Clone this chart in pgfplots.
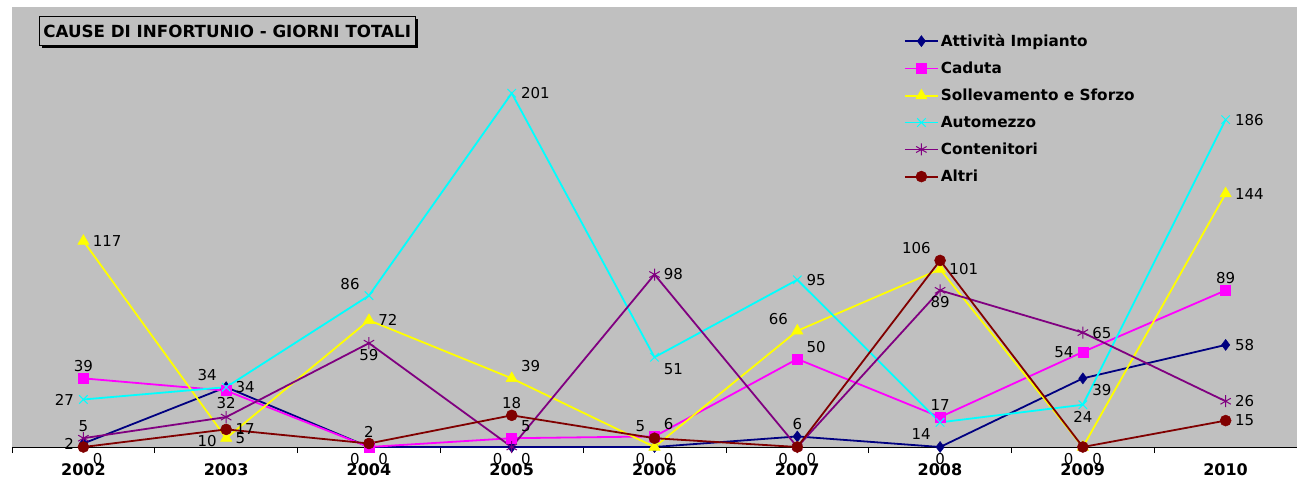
\documentclass[border=0pt]{standalone}
\usepackage{pgfplots}
\pgfplotsset{compat=1.18}
\usepackage{pgfplotstable}
\usepackage{fontspec}
\setmainfont{DejaVu Sans}
\usetikzlibrary{shadows}
\definecolor{bggray}{RGB}{192,192,192}
\definecolor{cnavy}{RGB}{0,0,128}
\definecolor{cmag}{RGB}{255,0,255}
\definecolor{cyel}{RGB}{255,255,0}
\definecolor{ccyan}{RGB}{0,255,255}
\definecolor{cpurp}{RGB}{128,0,128}
\definecolor{cdred}{RGB}{128,0,0}

\pgfplotstableread{
x y a
2002 2 east
2003 34 {south east}
2004 0 {north east}
2005 0 {north east}
2006 0 {north east}
2007 6 south
2008 0 north
2009 39 {north west}
2010 58 west
}\attivita
\pgfplotstableread{
x y a
2002 39 south
2003 32 north
2004 0 {north west}
2005 5 {south west}
2006 6 {south west}
2007 50 {south west}
2008 17 south
2009 54 east
2010 89 south
}\caduta
\pgfplotstableread{
x y a
2002 117 west
2003 5 west
2004 72 west
2005 39 {south west}
2006 0 {north west}
2007 66 {south east}
2008 101 west
2009 0 {north west}
2010 144 west
}\solleva
\pgfplotstableread{
x y a
2002 27 east
2003 34 west
2004 86 {south east}
2005 201 west
2006 51 {north west}
2007 95 west
2008 14 {north east}
2009 24 north
2010 186 west
}\automezzo
\pgfplotstableread{
x y a
2002 5 south
2003 17 {north west}
2004 59 north
2005 0 {north west}
2006 98 west
2007 0 {north west}
2008 89 north
2009 65 west
2010 26 west
}\contenitori
\pgfplotstableread{
x y a
2002 0 {north west}
2003 10 {north east}
2004 2 south
2005 18 south
2006 5 {south east}
2007 0 {north east}
2008 106 {south east}
2009 0 {north east}
2010 15 west
}\altri

\pgfplotsset{
  lab/.style={
    forget plot, draw=none, mark=none,
    point meta=explicit symbolic,
    nodes near coords={\pgfmathprintnumber[assume math mode=true,fixed,precision=0]{\pgfkeysvalueof{/data point/y}}},
    every node near coord/.append style={anchor=\pgfplotspointmeta, font=\fontsize{15}{17}\selectfont, inner xsep=8.5pt, inner ysep=5.5pt, text=black},
  },
}

\begin{document}
\begin{tikzpicture}
\begin{axis}[
  scale only axis,
  width=1285pt, height=440pt,
  xmin=2001.5, xmax=2010.5,
  ymin=0, ymax=250,
  clip=false,
  axis background/.style={fill=bggray},
  axis x line*=bottom,
  axis y line=none,
  x axis line style={black, line width=0.8pt, -},
  xtick={2002,...,2010},
  xticklabels={\textbf{2002},\textbf{2003},\textbf{2004},\textbf{2005},\textbf{2006},\textbf{2007},\textbf{2008},\textbf{2009},\textbf{2010}},
  major tick length=0pt,
  minor xtick={2001.5,2002.5,...,2010.5},
  minor tick length=6pt,
  tick align=outside,
  minor tick style={black, line width=0.8pt},
  xticklabel style={font=\fontsize{16}{18}\selectfont, yshift=-13pt},
  every axis plot/.append style={line width=1.8pt},
  legend cell align=left,
  legend style={at={(0.694,0.943)}, anchor=north west, draw=none, fill=none,
    font=\bfseries\fontsize{15.3}{18}\selectfont, row sep=10pt, inner sep=0pt,
    nodes={inner sep=2pt}},
  legend image code/.code={\draw[mark repeat=2,mark phase=2, line width=1.8pt] plot coordinates {(0pt,0pt) (16.5pt,0pt) (33pt,0pt)};},
  title={CAUSE DI INFORTUNIO - GIORNI TOTALI},
  title style={at={(0.021,0.966)}, anchor=north west, draw=black, line width=0.8pt, fill=bggray,
    drop shadow={shadow xshift=3pt, shadow yshift=-3pt, fill=black, opacity=1},
    font=\bfseries\fontsize{16.7}{19}\selectfont, inner xsep=4pt, minimum height=29pt, text depth=0pt},
]
\addplot[color=cnavy, mark=diamond*, mark size=5.5pt, mark options={line width=0.5pt}] table[x=x,y=y] {\attivita};
\addlegendentry{Attività Impianto}
\addplot[color=cmag, mark=square*, mark size=5pt, mark options={line width=0.5pt}] table[x=x,y=y] {\caduta};
\addlegendentry{Caduta}
\addplot[color=cyel, mark=triangle*, mark size=6.5pt, mark options={line width=0.5pt}] table[x=x,y=y] {\solleva};
\addlegendentry{Sollevamento e Sforzo}
\addplot[color=ccyan, mark=x, mark size=6pt, mark options={line width=1pt}] table[x=x,y=y] {\automezzo};
\addlegendentry{Automezzo}
\addplot[color=cpurp, mark=asterisk, mark size=6pt, mark options={line width=1pt}] table[x=x,y=y] {\contenitori};
\addlegendentry{Contenitori}
\addplot[color=cdred, mark=*, mark size=5.5pt, mark options={line width=0.5pt}] table[x=x,y=y] {\altri};
\addlegendentry{Altri}
\addplot[lab] table[x=x,y=y,meta=a] {\attivita};
\addplot[lab] table[x=x,y=y,meta=a] {\caduta};
\addplot[lab] table[x=x,y=y,meta=a] {\solleva};
\addplot[lab] table[x=x,y=y,meta=a] {\automezzo};
\addplot[lab] table[x=x,y=y,meta=a] {\contenitori};
\addplot[lab] table[x=x,y=y,meta=a] {\altri};
\end{axis}
\pgfresetboundingbox
\path (-12pt,-32pt) rectangle (1285pt,447pt);
\end{tikzpicture}
\end{document}
